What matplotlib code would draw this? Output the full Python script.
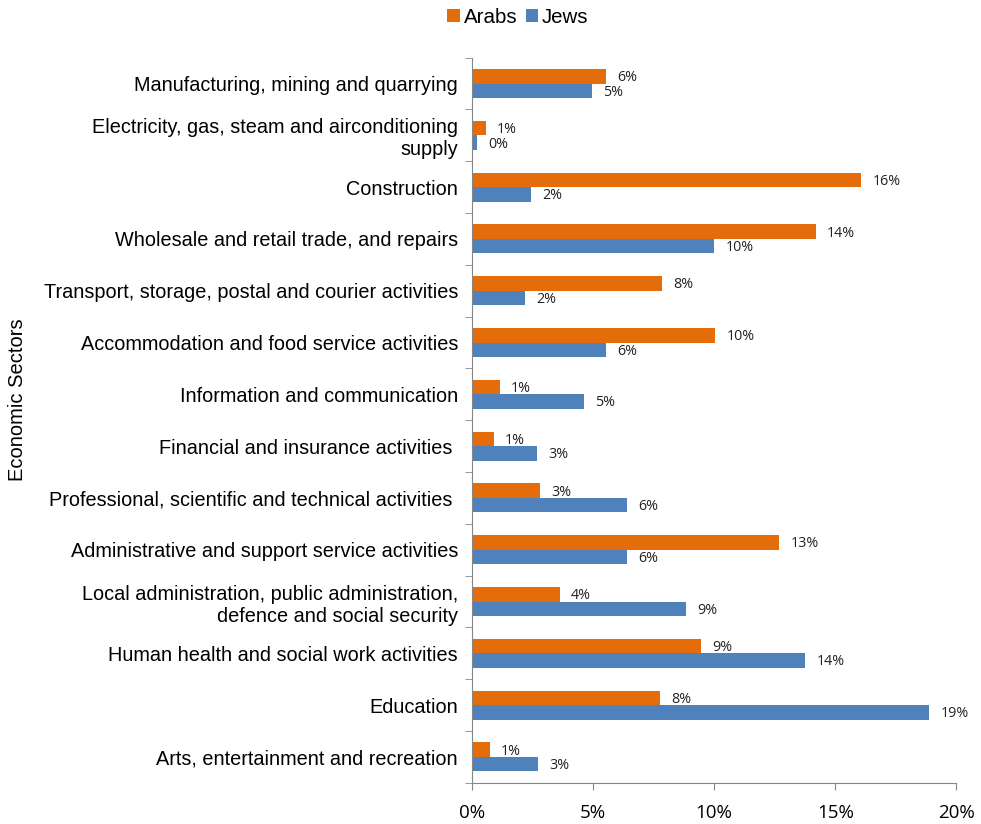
import numpy as np
import matplotlib
matplotlib.use('Agg')
import matplotlib.pyplot as plt
from matplotlib.ticker import FixedLocator, PercentFormatter

# data (share of workers per sector, %)
sectors = [
    'Manufacturing, mining and quarrying',
    'Electricity, gas, steam and airconditioning\nsupply',
    'Construction',
    'Wholesale and retail trade, and repairs',
    'Transport, storage, postal and courier activities',
    'Accommodation and food service activities',
    'Information and communication',
    'Financial and insurance activities ',
    'Professional, scientific and technical activities ',
    'Administrative and support service activities',
    'Local administration, public administration,\ndefence and social security',
    'Human health and social work activities',
    'Education',
    'Arts, entertainment and recreation',
]
arabs = [5.55, 0.58, 16.07, 14.2, 7.85, 10.04, 1.16, 0.91, 2.81, 12.69, 3.64, 9.46, 7.77, 0.74]
jews = [4.96, 0.2, 2.44, 10.0, 2.19, 5.54, 4.63, 2.69, 6.4, 6.4, 8.84, 13.76, 18.88, 2.73]

c_arabs = '#E46C0A'
c_jews = '#4F81BD'

fig = plt.figure(figsize=(9.81, 8.24), dpi=100)
ax = fig.add_axes([0.481, 0.05, 0.494, 0.88])

y = np.arange(len(sectors))
h = 0.28
ax.barh(y - h / 2, arabs, height=h, color=c_arabs, label='Arabs')
ax.barh(y + h / 2, jews, height=h, color=c_jews, label='Jews')

for i in range(len(sectors)):
    ax.annotate('%.0f%%' % arabs[i], (arabs[i], y[i] - h / 2), xytext=(8, -1),
                textcoords='offset points', va='center', ha='left',
                fontsize=10.3, family='Open Sans', color='#222222')
    ax.annotate('%.0f%%' % jews[i], (jews[i], y[i] + h / 2), xytext=(8, -1),
                textcoords='offset points', va='center', ha='left',
                fontsize=10.3, family='Open Sans', color='#222222')

ax.set_ylim(len(sectors) - 0.5, -0.5)
ax.set_xlim(0, 20)
ax.set_yticks(y)
ax.set_yticklabels(sectors, fontsize=14.3, family='Liberation Sans', ha='right',
                   multialignment='right')
ax.tick_params(axis='y', which='major', length=0, pad=10)
ax.yaxis.set_minor_locator(FixedLocator(np.arange(-0.5, len(sectors), 1)))
ax.tick_params(axis='y', which='minor', length=5, color='#868686')

ax.set_xticks([0, 5, 10, 15, 20])
ax.xaxis.set_major_formatter(PercentFormatter(decimals=0))
ax.tick_params(axis='x', length=5, color='#868686', pad=10)
for t in ax.get_xticklabels():
    t.set_fontsize(13.5)
    t.set_family('Open Sans')

for s in ['top', 'right']:
    ax.spines[s].set_visible(False)
for s in ['left', 'bottom']:
    ax.spines[s].set_color('#868686')

ax.set_ylabel('Economic Sectors', fontsize=14.5, family='Liberation Sans')
ax.yaxis.set_label_coords(-0.917, 0.528)

fig.legend(loc='upper center', bbox_to_anchor=(0.528, 1.013), ncol=2, frameon=False,
           prop={'family': 'Liberation Sans', 'size': 14.8}, handlelength=0.6,
           handleheight=0.6, handletextpad=0.2, columnspacing=0.4)

plt.savefig('out.png', dpi=100)
